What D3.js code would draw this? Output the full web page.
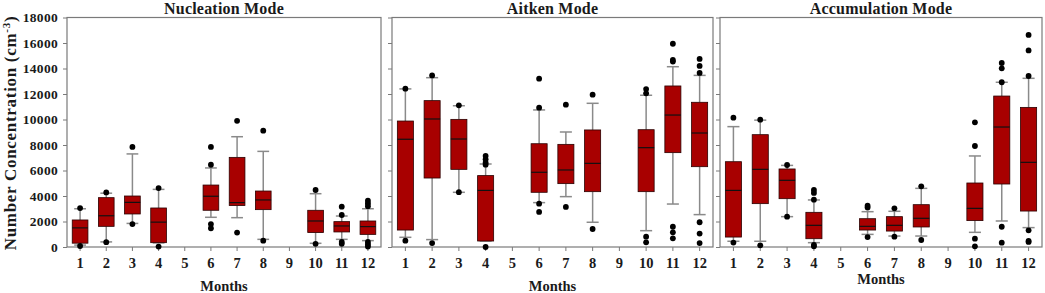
<!DOCTYPE html>
<html><head><meta charset="utf-8">
<script src="https://cdn.jsdelivr.net/npm/d3@7"></script>
<style>body{margin:0;background:#fff}svg{display:block}text{font-family:"Liberation Serif","Times New Roman",serif;font-weight:bold;fill:#1a1a1a}</style>
</head><body><svg id="c" width="1045" height="293"></svg>
<script>
const months = [1,2,3,4,5,6,7,8,9,10,11,12];
const dataMonths = [1,2,3,4,6,7,8,10,11,12];
const yTicks = [0,2000,4000,6000,8000,10000,12000,14000,16000,18000];
const panelTitles = ["Nucleation Mode","Aitken Mode","Accumulation Mode"];

// Nucleation mode
const nucLow  = [150,400,1850,320,2330,2300,600,290,600,500];
const nucQ1   = [300,1620,2590,340,2880,3250,2930,1130,1180,990];
const nucMed  = [1500,2450,3500,1950,3980,3480,3690,2040,1650,1600];
const nucQ3   = [2120,3870,4000,3060,4860,7030,4390,2880,1990,2040];
const nucHigh = [3000,4220,7300,4520,6200,8650,7500,4180,2430,3000];
const nucOut  = [[3050,80],[4280,380],[7850,1800],[4620,30],[7850,6450,1800,1470],[9900,1130],[9120,500],[4470,250],[3160,2510,400,250],[3630,3420,3200,400,200,30]];

// Aitken mode
const aitLow  = [760,580,4290,470,3480,3950,1940,1280,3370,2540];
const aitQ1   = [1330,5410,6090,470,4290,4970,4340,4340,7400,6300];
const aitMed  = [8450,10040,8470,4440,5860,6040,6560,7790,10350,8940];
const aitQ3   = [9880,11480,10010,5600,8100,8050,9180,9200,12630,11350];
const aitHigh = [12400,13280,11080,6510,10750,9020,11270,11900,14140,13460];
const aitOut  = [[12420,500],[13460,310],[11110,4300],[7140,6880,6610,6460,0],[13200,10930,3400,2750],[11160,3140],[11950,1410],[12390,12050,810,370],[15940,14670,14540,1590,1150,680],[14750,14200,13650,1940,1050,310]];

// Accumulation mode
const accLow  = [450,450,2380,340,990,860,860,1150,2040,1520];
const accQ1   = [780,3400,3790,650,1330,1250,1570,2070,4940,2820];
const accMed  = [4440,6090,5230,1700,1620,1700,2250,3030,9410,6640];
const accQ3   = [6690,8810,6120,2720,2220,2380,3320,5020,11840,10950];
const accHigh = [9440,9950,6400,3690,2770,2800,4600,7140,12920,13230];
const accOut  = [[10140,350],[9990,130],[6430,2380],[4470,4240,3710,170,50],[3240,3090,780],[3030,810],[4760,550],[9780,7920,650,50],[14430,14010,12920,1590,340],[16630,15420,13410,1310,470,400]];

const panels = [
  {low:nucLow,q1:nucQ1,med:nucMed,q3:nucQ3,high:nucHigh,out:nucOut,x0:67,x1:381,mY:286},
  {low:aitLow,q1:aitQ1,med:aitMed,q3:aitQ3,high:aitHigh,out:aitOut,x0:392,x1:713,mY:286},
  {low:accLow,q1:accQ1,med:accMed,q3:accQ3,high:accHigh,out:accOut,x0:720,x1:1042,mY:279}
];

const svg = d3.select("#c");
const yTop = 17.5, yBot = 247;
const y = d3.scaleLinear().domain([0,18000]).range([yBot,yTop]);
const frameCol = "#7a7a7a";

panels.forEach((p,i)=>{
  const x = d3.scaleBand().domain(months).range([p.x0,p.x1]).padding(0);
  const g = svg.append("g");
  g.append("rect").attr("x",p.x0).attr("y",yTop).attr("width",p.x1-p.x0).attr("height",yBot-yTop)
    .attr("fill","none").attr("stroke",frameCol).attr("stroke-width",1.2);
  const ya = g.append("g").attr("transform",`translate(${p.x0},0)`)
    .call(d3.axisLeft(y).tickValues(yTicks).tickSize(4).tickFormat(i===0?d3.format("d"):""));
  ya.select(".domain").remove();
  ya.selectAll("line").attr("stroke",frameCol);
  ya.selectAll("text").attr("font-size",13.5).attr("dx",-2).attr("letter-spacing",0.3);
  const xa = g.append("g").attr("transform",`translate(0,${yBot})`)
    .call(d3.axisBottom(x).tickSize(4).tickPadding(7));
  xa.select(".domain").remove();
  xa.selectAll("line").attr("stroke",frameCol);
  xa.selectAll("text").attr("font-size",14.5);
  g.append("text").attr("x",(p.x0+p.x1)/2).attr("y",14).attr("text-anchor","middle")
    .attr("font-size",16).attr("letter-spacing",0.2).text(panelTitles[i]);
  g.append("text").attr("x",(p.x0+p.x1)/2).attr("y",p.mY+5).attr("text-anchor","middle")
    .attr("font-size",14.5).text("Months");

  const bw = x.bandwidth()*0.6, cw = bw*0.75;
  dataMonths.forEach((m,k)=>{
    const cx = x(m)+x.bandwidth()/2;
    const bg = g.append("g");
    bg.append("line").attr("x1",cx).attr("x2",cx).attr("y1",y(p.q3[k])).attr("y2",y(p.high[k]))
      .attr("stroke","#8a8a8a").attr("stroke-width",1.5);
    bg.append("line").attr("x1",cx).attr("x2",cx).attr("y1",y(p.q1[k])).attr("y2",y(p.low[k]))
      .attr("stroke","#8a8a8a").attr("stroke-width",1.5);
    [p.high[k],p.low[k]].forEach(v=>{
      bg.append("line").attr("x1",cx-cw/2).attr("x2",cx+cw/2).attr("y1",y(v)).attr("y2",y(v))
        .attr("stroke","#8a8a8a").attr("stroke-width",1.5);
    });
    bg.append("rect").attr("x",cx-bw/2).attr("width",bw).attr("y",y(p.q3[k]))
      .attr("height",Math.max(0.5,y(p.q1[k])-y(p.q3[k])))
      .attr("fill","#a80000").attr("stroke","#2a0000").attr("stroke-width",0.8);
    bg.append("line").attr("x1",cx-bw/2).attr("x2",cx+bw/2).attr("y1",y(p.med[k])).attr("y2",y(p.med[k]))
      .attr("stroke","#111").attr("stroke-width",1.2);
    p.out[k].forEach(v=>{
      bg.append("circle").attr("cx",cx).attr("cy",y(v)).attr("r",2.9).attr("fill","#000");
    });
  });
});

svg.append("text").attr("transform","translate(16,133) rotate(-90)").attr("text-anchor","middle")
  .attr("font-size",17).attr("letter-spacing",0.7)
  .html('Number Concentration (cm<tspan baseline-shift="super" font-size="11">-3</tspan>)');
</script></body></html>
